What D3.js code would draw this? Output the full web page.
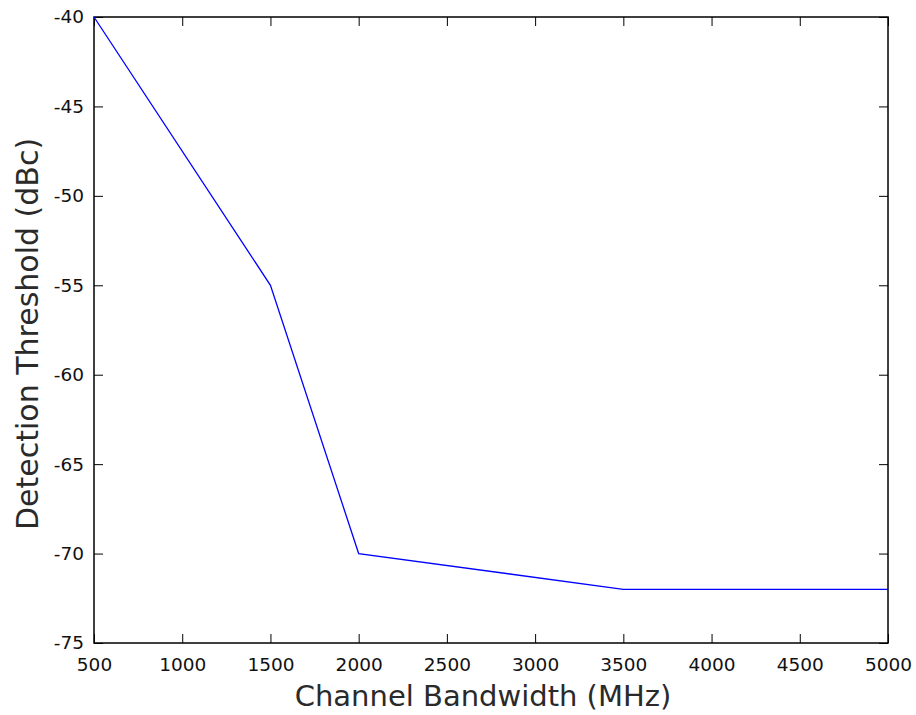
<!DOCTYPE html>
<html>
<head>
<meta charset="utf-8">
<script src="https://cdn.jsdelivr.net/npm/d3@7"></script>
<style>
  body { margin: 0; background: #fff; }
  svg text { font-family: "DejaVu Sans", sans-serif; }
</style>
</head>
<body>
<svg id="chart" width="916" height="715"></svg>
<script>
const bandwidth = [500, 1500, 2000, 3500, 5000]
const threshold = [-40, -55, -70, -72, -72]
const xTicks = [500, 1000, 1500, 2000, 2500, 3000, 3500, 4000, 4500, 5000]
const yTicks = [-40, -45, -50, -55, -60, -65, -70, -75]

const width = 916
const height = 715
const margin = { top: 17, right: 28, bottom: 72, left: 94 }

const svg = d3.select('#chart')

const x = d3.scaleLinear()
  .domain([500, 5000])
  .range([margin.left, width - margin.right])

const y = d3.scaleLinear()
  .domain([-75, -40])
  .range([height - margin.bottom, margin.top])

const tickLen = 9
// plain hyphen minus, like the original
const fmt = (d) => String(d)

// frame
svg.append('rect')
  .attr('x', x(500))
  .attr('y', y(-40))
  .attr('width', x(5000) - x(500))
  .attr('height', y(-75) - y(-40))
  .attr('fill', 'none')
  .attr('stroke', '#000')
  .attr('stroke-width', 1.5)

const styleAxis = (g) => {
  g.select('.domain').remove()
  g.selectAll('line').attr('stroke', '#000')
  g.selectAll('text')
    .style('font-size', '18.5px')
    .attr('fill', '#111')
}

// bottom / top x ticks (inward)
svg.append('g')
  .attr('transform', `translate(0, ${y(-75)})`)
  .call(d3.axisBottom(x).tickValues(xTicks).tickSize(-tickLen).tickPadding(15).tickFormat(fmt))
  .call(styleAxis)

svg.append('g')
  .attr('transform', `translate(0, ${y(-40)})`)
  .call(d3.axisTop(x).tickValues(xTicks).tickSize(-tickLen).tickFormat(''))
  .call(styleAxis)

// left / right y ticks (inward)
svg.append('g')
  .attr('transform', `translate(${x(500)}, 0)`)
  .call(d3.axisLeft(y).tickValues(yTicks).tickSize(-tickLen).tickPadding(10).tickFormat(fmt))
  .call(styleAxis)

svg.append('g')
  .attr('transform', `translate(${x(5000)}, 0)`)
  .call(d3.axisRight(y).tickValues(yTicks).tickSize(-tickLen).tickFormat(''))
  .call(styleAxis)

// data line
const data = bandwidth.map((b, i) => ({ b, t: threshold[i] }))

svg.append('path')
  .datum(data)
  .attr('fill', 'none')
  .attr('stroke', '#0000ff')
  .attr('stroke-width', 1.3)
  .attr('d', d3.line().x(d => x(d.b)).y(d => y(d.t)))

// axis titles
svg.append('text')
  .attr('x', (x(500) + x(5000)) / 2 - 8)
  .attr('y', 706)
  .attr('text-anchor', 'middle')
  .style('font-size', '29px')
  .attr('fill', '#2a2a2a')
  .text('Channel Bandwidth (MHz)')

svg.append('text')
  .attr('transform', `translate(38, 334) rotate(-90)`)
  .attr('text-anchor', 'middle')
  .style('font-size', '30px')
  .attr('fill', '#2a2a2a')
  .text('Detection Threshold (dBc)')
</script>
</body>
</html>
